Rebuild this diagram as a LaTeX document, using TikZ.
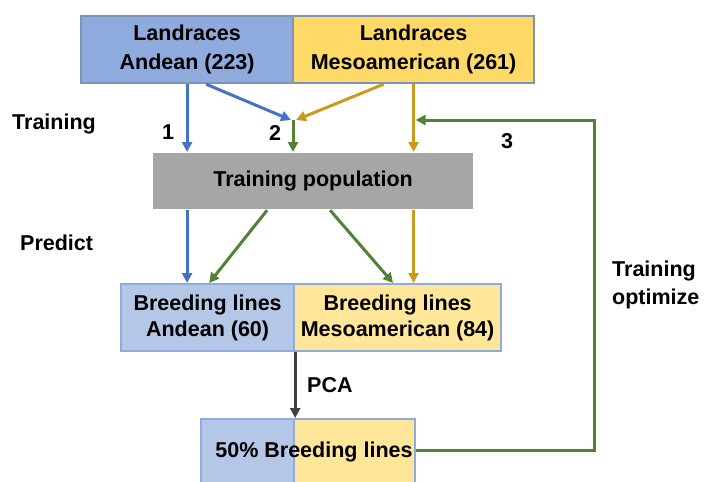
\documentclass[tikz,border=0pt]{standalone}
\usepackage{fontspec}
\setmainfont{Liberation Sans}
\usetikzlibrary{arrows.meta,positioning,calc}
\definecolor{andeanfill}{HTML}{8FAADC}
\definecolor{mesofill}{HTML}{FFD966}
\definecolor{andeanlite}{HTML}{B4C7E7}
\definecolor{mesolite}{HTML}{FFE699}
\definecolor{topedge}{HTML}{7F93B8}
\definecolor{lowedge}{HTML}{8FAADC}
\definecolor{popfill}{HTML}{A6A6A6}
\definecolor{arrblue}{HTML}{4472C4}
\definecolor{arrgold}{HTML}{C99A1C}
\definecolor{arrgreen}{HTML}{548235}
\definecolor{arrgray}{HTML}{404040}

\begin{document}
\begin{tikzpicture}[x=1pt, y=-1pt,
  box/.style={rectangle, draw, line width=2.2pt, anchor=north west, inner sep=0pt,
              align=center, font=\fontsize{21.5}{29}\selectfont\bfseries},
  topbox/.style={box, draw=topedge, minimum height=67pt},
  lowbox/.style={box, draw=lowedge, minimum height=67pt, font=\fontsize{21.5}{26}\selectfont\bfseries},
  lbl/.style={font=\fontsize{21.5}{28}\selectfont\bfseries, inner sep=0pt},
  arr/.style={-{Triangle[length=10pt, width=10pt]}, line width=3pt}
]
\clip (0,0) rectangle (705,482);
\useasboundingbox (0,0) rectangle (705,482);

% landraces
\node[topbox, fill=andeanfill, minimum width=212pt] (andean) at (80,15) {Landraces\\Andean (223)};
\node[topbox, fill=mesofill, minimum width=241pt] (meso) at (292,15) {Landraces\\Mesoamerican (261)};

% training population
\node[box, draw=none, fill=popfill, minimum width=320pt, minimum height=56pt] (trainpop) at (152,152) {Training population};

% breeding lines
\node[lowbox, fill=andeanlite, minimum width=173pt] (brA) at (120,283) {Breeding lines\\Andean (60)};
\node[lowbox, fill=mesolite, minimum width=207pt] (brM) at (293,283) {Breeding lines\\Mesoamerican (84)};

% selected lines
\node[lowbox, fill=andeanlite, minimum width=93pt, minimum height=75pt] (selA) at (200,418) {};
\node[lowbox, fill=mesolite, minimum width=121pt, minimum height=75pt] (selM) at (293,418) {};
\node[lbl] (seltxt) at (314,452) {50\% Breeding lines};

\coordinate (merge) at (293,120);
\coordinate (loopc) at (594,120);

% arrows into training population
\draw[arr, arrblue] (andean.south) -- (andean.south |- trainpop.north);
\draw[arr, arrblue] ([xshift=19pt]andean.south) -- ([xshift=-2pt]merge);
\draw[arr, arrgold] ([xshift=-30pt]meso.south) -- ([xshift=3pt]merge);
\draw[arr, arrgreen] (merge) -- (merge |- trainpop.north);
\draw[arr, arrgold] (meso.south) -- (meso.south |- trainpop.north);
\draw[arr, arrgreen] ([yshift=6pt]selM.east) -| (loopc) -- ([xshift=2pt]meso.south |- loopc);

% arrows into breeding lines
\draw[arr, arrblue] (andean.south |- trainpop.south) -- (andean.south |- brA.north);
\draw[arr, arrgreen] ([xshift=-46pt]trainpop.south) -- ([xshift=1.5pt]brA.north);
\draw[arr, arrgreen] ([xshift=17pt]trainpop.south) -- ([xshift=-4.5pt]brM.north);
\draw[arr, arrgold] (meso.south |- trainpop.south) -- (meso.south |- brM.north);
\draw[arr, arrgray] (brA.south east) -- (selA.north east);

% labels
\node[lbl, anchor=west] (ltrain) at (12,124) {Training};
\node[lbl, anchor=west] (lpredict) at (20,243) {Predict};
\node[lbl] (lone) at (168,132) {1};
\node[lbl] (ltwo) at (275,133) {2};
\node[lbl] (lthree) at (507,141) {3};
\node[lbl, anchor=west] (lpca) at (307,385) {PCA};
\node[lbl, anchor=west, align=left] (lopt) at (612,285) {Training\\optimize};
\end{tikzpicture}
\end{document}
